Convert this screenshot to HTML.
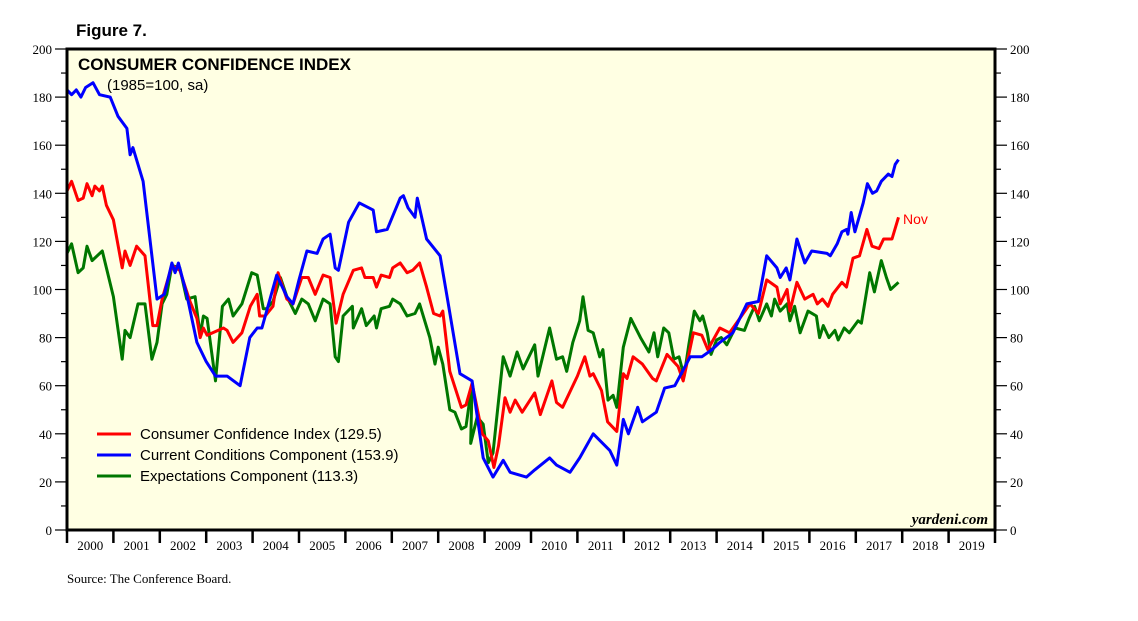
<!DOCTYPE html>
<html><head><meta charset="utf-8">
<style>
body{margin:0;background:#fff;}
svg{display:block;}
</style></head>
<body>
<svg id="chart" width="1138" height="621" xmlns="http://www.w3.org/2000/svg">
<text x="76" y="36" font-family="Liberation Sans, sans-serif" font-weight="bold" font-size="17">Figure 7.</text>
<rect x="67" y="49" width="928" height="481" fill="#ffffe3"/>
<g id="axes"></g>
<g id="series"></g>
<rect x="67" y="49" width="928" height="481" fill="none" stroke="#000" stroke-width="3"/>
<text x="78" y="70" font-family="Liberation Sans, sans-serif" font-weight="bold" font-size="17">CONSUMER CONFIDENCE INDEX</text>
<text x="107" y="90" font-family="Liberation Sans, sans-serif" font-size="15">(1985=100, sa)</text>
<g font-family="Liberation Sans, sans-serif" font-size="15">
<line x1="97" y1="434" x2="131" y2="434" stroke="#ff0000" stroke-width="3"/>
<text x="140" y="439">Consumer Confidence Index (129.5)</text>
<line x1="97" y1="455" x2="131" y2="455" stroke="#0000ff" stroke-width="3"/>
<text x="140" y="460">Current Conditions Component (153.9)</text>
<line x1="97" y1="476" x2="131" y2="476" stroke="#007700" stroke-width="3"/>
<text x="140" y="481">Expectations Component (113.3)</text>
</g>
<text x="903" y="224" fill="#ff0000" font-family="Liberation Sans, sans-serif" font-size="14">Nov</text>
<text x="988" y="524" text-anchor="end" font-family="Liberation Serif, serif" font-style="italic" font-weight="bold" font-size="15">yardeni.com</text>
<text x="67" y="583" font-family="Liberation Serif, serif" font-size="13">Source: The Conference Board.</text>
</svg>
<script>
const yTicks = [0,20,40,60,80,100,120,140,160,180,200];
const years = [2000,2001,2002,2003,2004,2005,2006,2007,2008,2009,2010,2011,2012,2013,2014,2015,2016,2017,2018,2019];
const blueT = [2000.0,2000.1,2000.2,2000.3,2000.4,2000.56,2000.7,2000.93,2001.1,2001.29,2001.36,2001.42,2001.64,2001.94,2002.1,2002.26,2002.33,2002.4,2002.58,2002.8,2003.0,2003.2,2003.45,2003.73,2003.94,2004.1,2004.2,2004.52,2004.74,2004.87,2005.0,2005.17,2005.39,2005.52,2005.67,2005.78,2005.85,2006.07,2006.3,2006.6,2006.67,2006.9,2007.18,2007.25,2007.35,2007.5,2007.55,2007.75,2008.04,2008.2,2008.47,2008.73,2008.97,2009.18,2009.4,2009.55,2009.9,2010.08,2010.4,2010.55,2010.84,2011.05,2011.34,2011.7,2011.85,2011.99,2012.1,2012.3,2012.4,2012.7,2012.88,2013.1,2013.43,2013.68,2013.9,2014.07,2014.35,2014.65,2014.9,2015.08,2015.3,2015.37,2015.5,2015.58,2015.73,2015.9,2016.05,2016.38,2016.45,2016.6,2016.7,2016.8,2016.83,2016.9,2016.98,2017.16,2017.25,2017.36,2017.45,2017.55,2017.7,2017.78,2017.85,2017.92];
const blueV = [183,181,183,180,184,186,181,180,172,167,156,159,145,96,98,111,107,111,98,78,70,64,64,60,80,84,84,106,97,94,104,116,115,121,123,109,108,128,136,133,124,125,138,139,134,130,138,121,114,96,65,62,30,22,29,24,22,25,30,27,24,30,40,33,27,46,40,51,45,49,59,60,72,72,75,78,82,94,95,114,109,105,109,104,121,111,116,115,114,119,124,125,123,132,124,136,144,140,141,145,148,147,152,154];
const redT = [2000.0,2000.1,2000.24,2000.35,2000.43,2000.54,2000.6,2000.7,2000.76,2000.85,2001.0,2001.19,2001.25,2001.36,2001.5,2001.68,2001.85,2001.94,2002.05,2002.26,2002.43,2002.65,2002.8,2002.87,2002.94,2003.02,2003.37,2003.45,2003.58,2003.77,2003.95,2004.1,2004.15,2004.27,2004.44,2004.55,2004.74,2004.87,2005.06,2005.2,2005.35,2005.52,2005.67,2005.8,2005.95,2006.17,2006.35,2006.42,2006.6,2006.67,2006.77,2006.95,2007.02,2007.18,2007.33,2007.45,2007.6,2007.75,2007.9,2008.04,2008.1,2008.25,2008.5,2008.6,2008.73,2008.95,2009.08,2009.2,2009.3,2009.44,2009.55,2009.66,2009.81,2010.08,2010.2,2010.45,2010.55,2010.68,2011.0,2011.16,2011.27,2011.34,2011.52,2011.65,2011.85,2011.99,2012.07,2012.2,2012.4,2012.62,2012.7,2012.93,2013.17,2013.28,2013.5,2013.68,2013.81,2014.07,2014.28,2014.5,2014.72,2014.9,2015.08,2015.3,2015.37,2015.52,2015.58,2015.73,2015.9,2016.08,2016.17,2016.28,2016.4,2016.5,2016.7,2016.8,2016.94,2017.08,2017.24,2017.35,2017.5,2017.6,2017.78,2017.92];
const redV = [141,145,137,138,144,139,143,141,143,135,129,109,116,110,118,114,85,85,96,110,108,95,88,80,84,81,84,83,78,82,93,98,89,89,93,107,96,94,105,105,98,106,105,86,98,108,109,105,105,101,106,105,109,111,107,108,111,101,90,89,91,66,51,52,61,40,37,26,35,55,49,54,49,57,48,62,53,51,64,72,64,65,58,45,41,65,63,72,69,63,62,73,68,62,82,81,75,84,82,88,94,90,104,101,94,100,91,103,96,98,94,96,93,98,103,101,113,114,125,118,117,121,121,130];
const greenT = [2000.0,2000.1,2000.24,2000.35,2000.43,2000.54,2000.76,2000.85,2001.0,2001.19,2001.25,2001.36,2001.53,2001.68,2001.83,2001.94,2002.05,2002.15,2002.26,2002.43,2002.58,2002.76,2002.87,2002.94,2003.02,2003.2,2003.35,2003.48,2003.58,2003.77,2003.98,2004.1,2004.23,2004.3,2004.44,2004.6,2004.74,2004.92,2005.06,2005.2,2005.35,2005.52,2005.67,2005.78,2005.85,2005.95,2006.15,2006.17,2006.35,2006.45,2006.62,2006.67,2006.77,2006.95,2007.02,2007.18,2007.33,2007.5,2007.6,2007.82,2007.93,2008.0,2008.1,2008.25,2008.36,2008.5,2008.6,2008.73,2008.7,2008.84,2008.97,2009.08,2009.18,2009.4,2009.55,2009.7,2009.83,2010.08,2010.15,2010.4,2010.55,2010.68,2010.77,2010.9,2011.05,2011.12,2011.23,2011.34,2011.48,2011.55,2011.66,2011.77,2011.85,2011.99,2012.15,2012.36,2012.54,2012.65,2012.73,2012.86,2012.97,2013.08,2013.19,2013.3,2013.4,2013.52,2013.64,2013.7,2013.8,2013.88,2014.0,2014.1,2014.22,2014.4,2014.6,2014.7,2014.82,2014.92,2015.08,2015.18,2015.25,2015.37,2015.52,2015.58,2015.68,2015.8,2015.97,2016.15,2016.22,2016.3,2016.42,2016.55,2016.62,2016.75,2016.86,2017.05,2017.12,2017.3,2017.4,2017.55,2017.66,2017.75,2017.92];
const greenV = [115,119,107,109,118,112,116,109,97,71,83,80,94,94,71,78,94,98,110,109,96,97,81,89,88,62,93,96,89,94,107,106,92,92,95,105,97,90,96,94,87,96,94,72,70,89,93,84,92,85,89,84,92,93,96,94,89,90,94,80,69,76,69,50,49,42,43,61,36,47,44,28,32,72,64,74,67,77,64,84,71,72,66,78,87,97,83,82,72,75,54,56,51,76,88,80,74,82,72,84,82,71,72,64,77,91,87,89,82,73,79,80,77,84,83,88,93,87,94,89,96,91,94,87,93,82,91,89,80,85,80,83,79,84,82,87,86,107,99,112,105,100,103,102,113];

const X0=67, X1=995, Y0=530, Y1=49;
const xs = t => X0 + (t-2000)/20*(X1-X0);
const ys = v => Y0 - v/200*(Y0-Y1);
const NS="http://www.w3.org/2000/svg";
const axes=document.getElementById('axes');
const series=document.getElementById('series');
function mk(tag, attrs, parent){const e=document.createElementNS(NS,tag);for(const k in attrs)e.setAttribute(k,attrs[k]);parent.appendChild(e);return e;}

for(let v=0; v<=200; v+=10){
  const y=ys(v), major = v%20===0;
  const l=mk('line',{x1:major?55:61,x2:X0,y1:y,y2:y,stroke:'#000','stroke-width':1.2},axes);
  
  
  const r=mk('line',{x1:X1,x2:major?1007:1001,y1:y,y2:y,stroke:'#000','stroke-width':1.2},axes);
  
  
}
yTicks.forEach(v=>{
  const y=ys(v)+5;
  const a=mk('text',{x:52,y:y,'text-anchor':'end','font-family':'Liberation Serif, serif','font-size':13},axes);
  a.textContent=v;
  
  
  const b=mk('text',{x:1010,y:y,'font-family':'Liberation Serif, serif','font-size':13},axes);
  b.textContent=v;
  
  
});
years.forEach(yr=>{
  const t=mk('line',{x1:xs(yr),x2:xs(yr),y1:Y0,y2:Y0+13,stroke:'#000','stroke-width':2.5},axes);
  
  
  const lb=mk('text',{x:xs(yr+0.5),y:Y0+20,'text-anchor':'middle','font-family':'Liberation Serif, serif','font-size':13},axes);
  lb.textContent=yr;
  
  
});
const endTick=mk('line',{x1:X1,x2:X1,y1:Y0,y2:Y0+13,stroke:'#000','stroke-width':2.5},axes);



function draw(T,V,color,name){
  const pts=T.map((t,i)=>xs(t).toFixed(1)+','+ys(V[i]).toFixed(1)).join(' ');
  const p=mk('polyline',{points:pts,fill:'none',stroke:color,'stroke-width':3,'stroke-linejoin':'round'},series);
  
  
}
draw(greenT,greenV,'#007700','expectations-line');
draw(redT,redV,'#ff0000','cci-line');
draw(blueT,blueV,'#0000ff','current-conditions-line');
</script>
</body></html>
